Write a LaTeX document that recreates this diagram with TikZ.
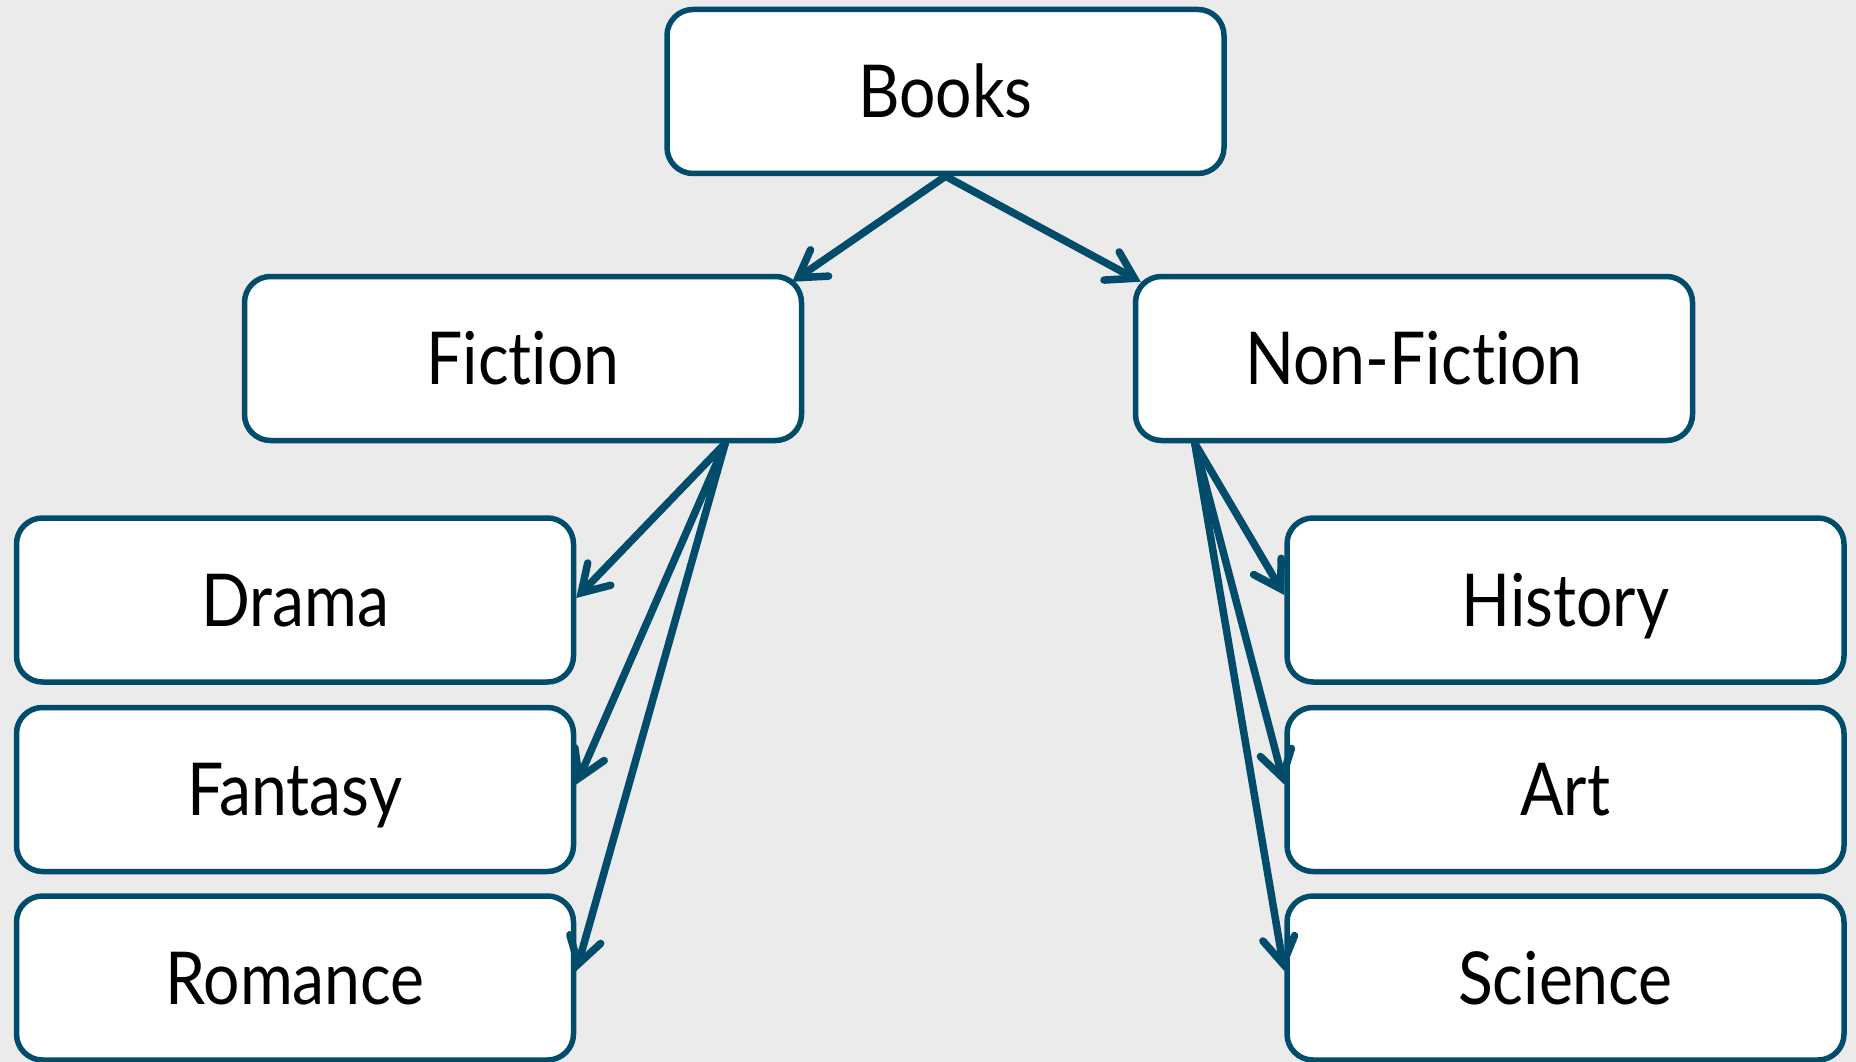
\documentclass[tikz,border=0pt]{standalone}
\usepackage{fontspec}
\setmainfont{Lato}[FakeStretch=0.88, Ligatures=NoCommon]
\usetikzlibrary{arrows.meta}
\definecolor{edge}{HTML}{004C6A}
\definecolor{paper}{HTML}{EBEBEB}
\tikzset{
  box/.style={draw=edge, line width=5.5pt, fill=white, rounded corners=26pt,
    minimum width=557pt, minimum height=164pt, inner sep=0pt,
    text height=52pt, text depth=0pt,
    font=\fontsize{73}{80}\selectfont},
  link/.style={draw=edge, line width=7.5pt, line cap=round,
    -{Straight Barb[length=26pt,width=32pt,line width=7.5pt,line cap=round]}}
}
\begin{document}
\begin{tikzpicture}[x=1pt,y=-1pt]
  \fill[paper] (0,0) rectangle (1856,1062);
  \useasboundingbox (0,0) rectangle (1856,1062);

  \node[box] (books)   at (945.5,91.5) {Books};
  \node[box] (fiction) at (523,358.5)  {Fiction};
  \node[box] (nonfic)  at (1414,358.5) {Non-Fiction};
  \node[box] (drama)   at (295,600)    {Drama};
  \node[box] (fantasy) at (295,789.5)  {Fantasy};
  \node[box] (romance) at (295,978)    {Romance};
  \node[box] (history) at (1565.5,600)   {History};
  \node[box] (art)     at (1565.5,789.5) {Art};
  \node[box] (science) at (1565.5,978)   {Science};

  % attachment points on the parent and child borders
  \coordinate (fic-in)  at ([xshift=-12pt,yshift=-8pt]fiction.north east);
  \coordinate (non-in)  at ([xshift=8pt,yshift=-8pt]nonfic.north west);
  \coordinate (fic-out) at ([xshift=-79pt]fiction.south east);
  \coordinate (non-out) at ([xshift=62pt]nonfic.south west);

  \draw[link] (books.south) -- (fic-in);
  \draw[link] (books.south) -- (non-in);

  \draw[link] (fic-out) -- ([yshift=2pt]drama.east);
  \draw[link] (fic-out) -- ([yshift=5pt]fantasy.east);
  \draw[link] (fic-out) -- ([yshift=7pt]romance.east);

  \draw[link] (non-out) -- ([yshift=5pt]history.west);
  \draw[link] (non-out) -- ([yshift=5pt]art.west);
  \draw[link] (non-out) -- ([yshift=7pt]science.west);
\end{tikzpicture}
\end{document}
